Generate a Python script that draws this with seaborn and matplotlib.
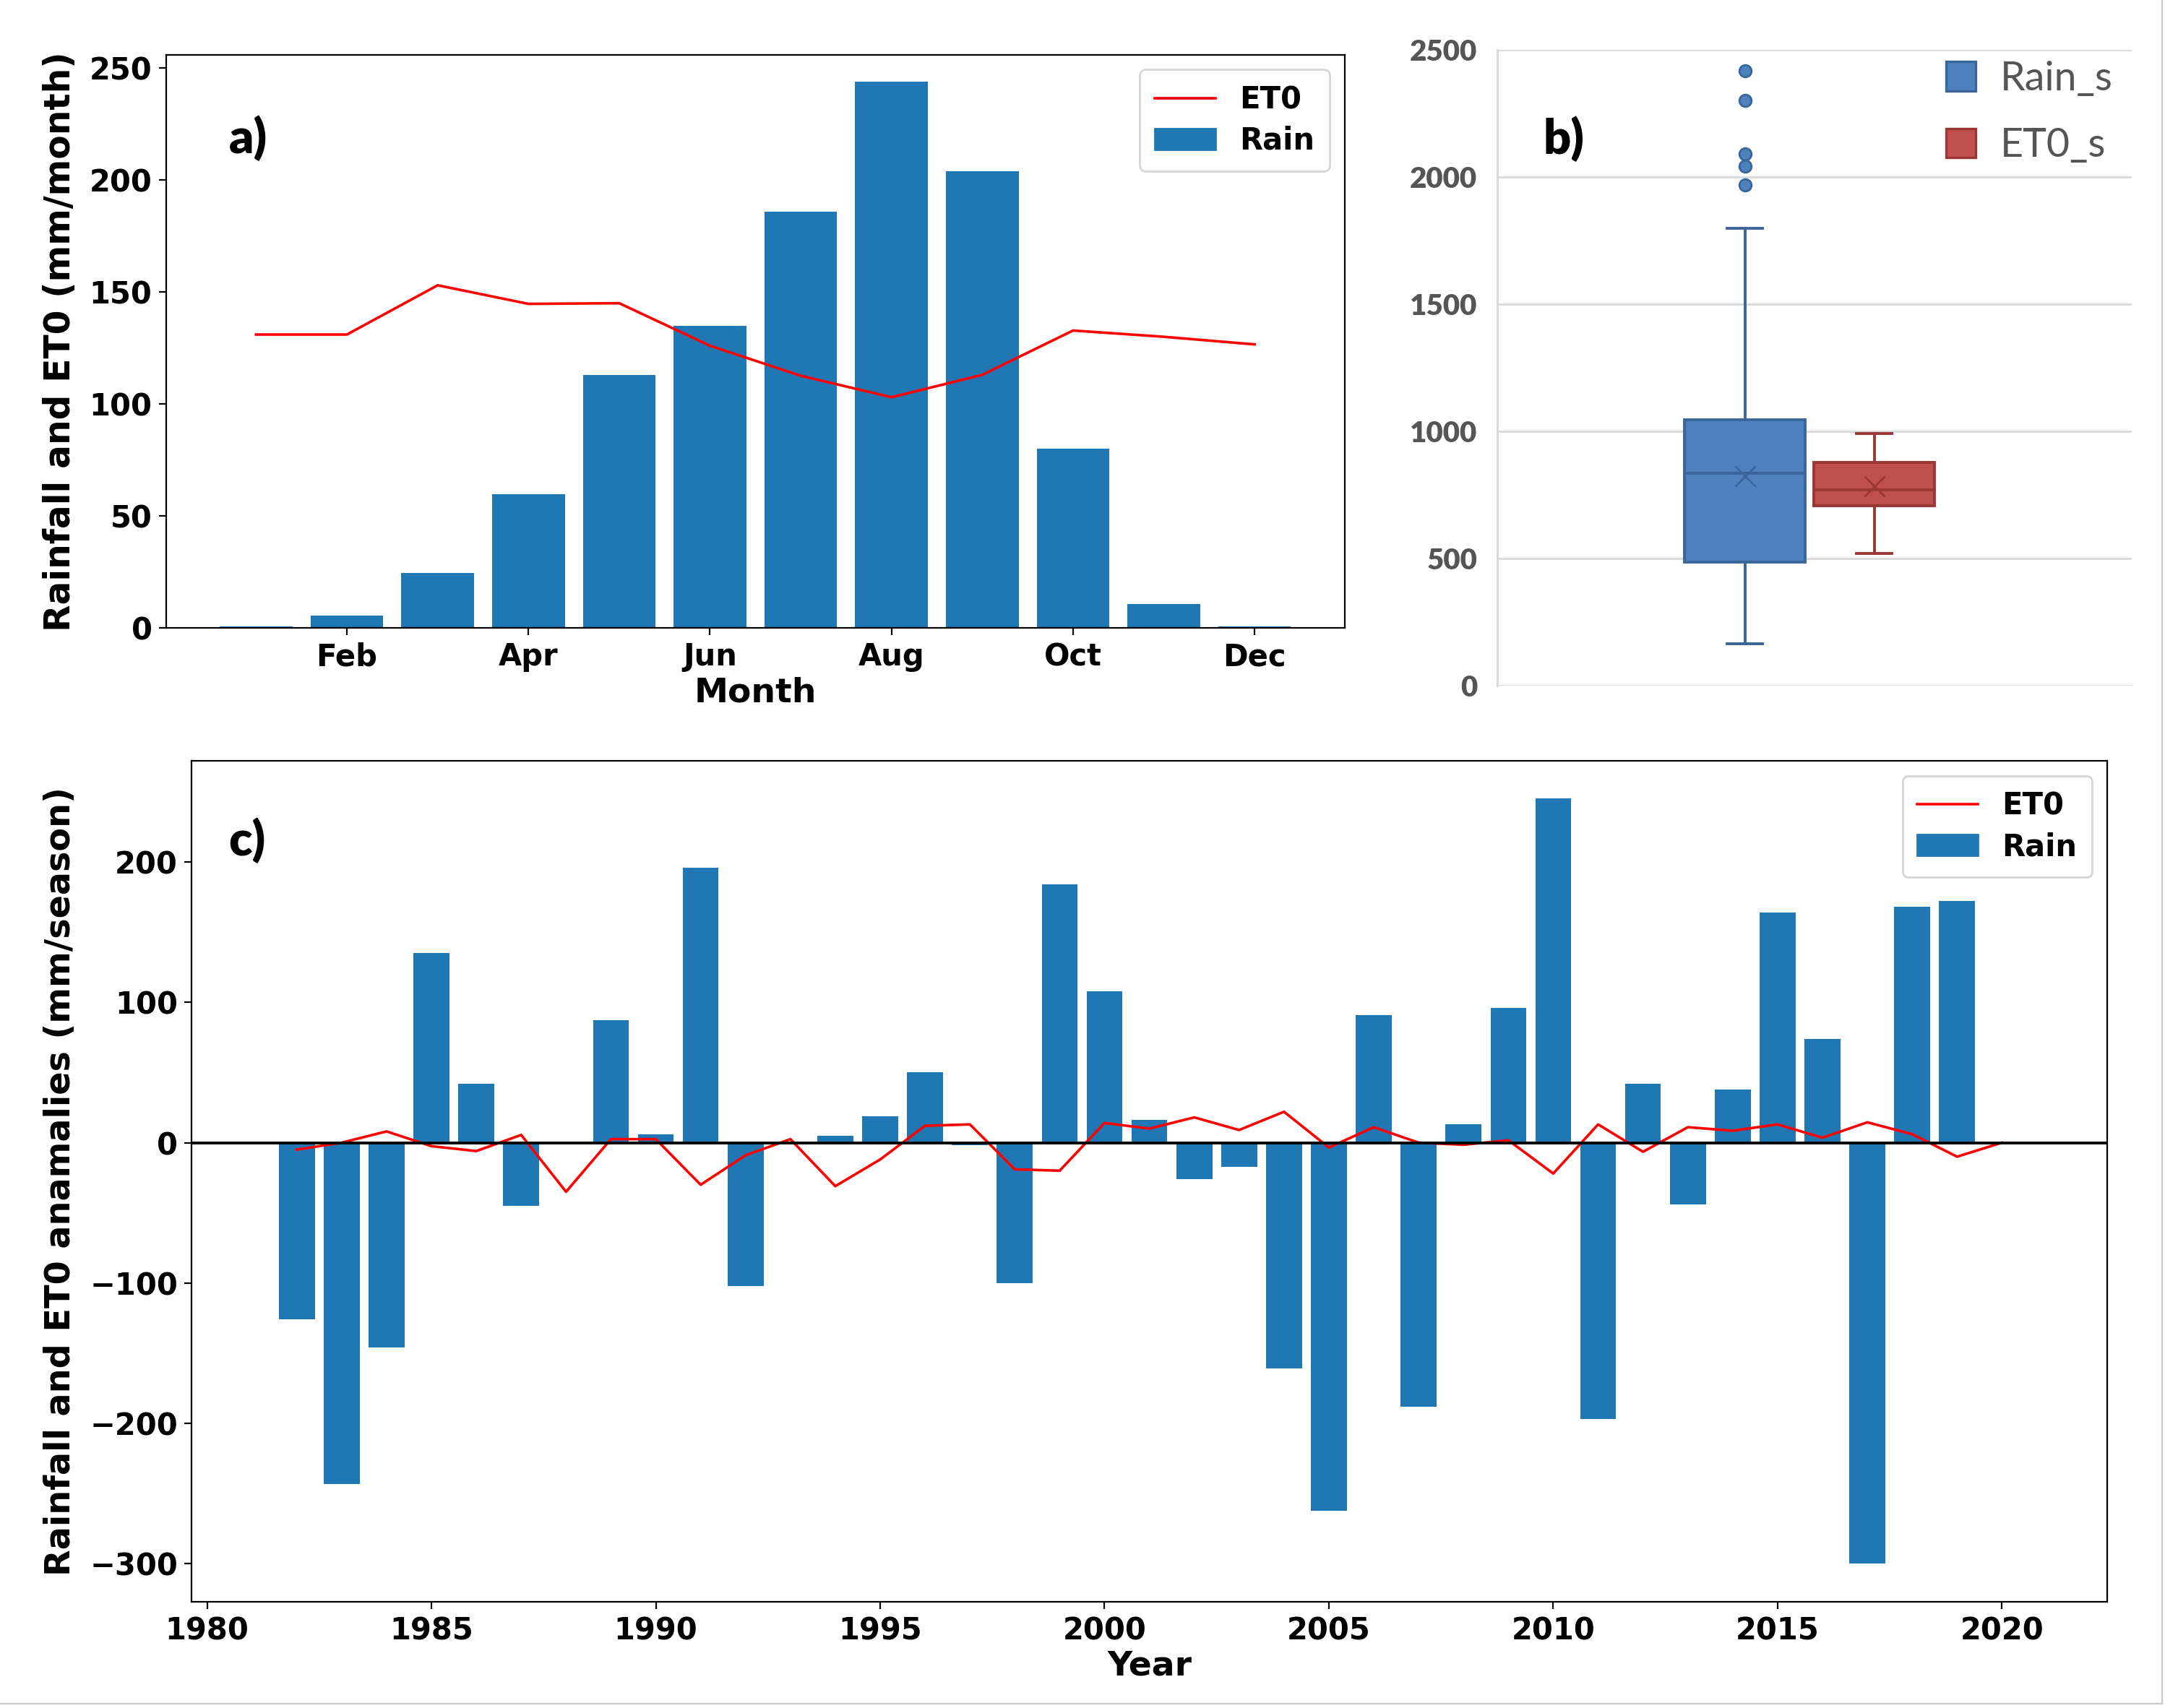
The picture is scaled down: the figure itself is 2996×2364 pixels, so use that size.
import numpy as np
import pandas as pd
import matplotlib
matplotlib.use("Agg")
import matplotlib.pyplot as plt
import seaborn as sns
from matplotlib.lines import Line2D
from matplotlib.patches import Patch
from matplotlib.font_manager import FontProperties

# ---------------- data ----------------
month_labels = ["Jan", "Feb", "Mar", "Apr", "May", "Jun",
                "Jul", "Aug", "Sep", "Oct", "Nov", "Dec"]
month_num = [1, 2, 3, 4, 5, 6, 7, 8, 9, 10, 11, 12]
month_rain = [0.8, 5.6, 24.5, 59.6, 112.8, 134.8, 185.8, 244.0, 204.0, 80.0, 10.7, 0.8]
month_et0 = [131.0, 131.0, 153.0, 144.7, 145.0, 126.0, 112.6, 103.0, 113.0, 132.8, 130.0, 126.6]
month_ticks = [2, 4, 6, 8, 10, 12]
month_ticklabels = ["Feb", "Apr", "Jun", "Aug", "Oct", "Dec"]

years = list(range(1982, 2021))
rain_anom = [-126, -243, -146, 135, 42, -45, -1, 87, 6, 196,
             -102, 0, 5, 19, 50, -2, -100, 184, 108, 16,
             -26, -17, -161, -262, 91, -188, 13, 96, 245, -197,
             42, -44, 38, 164, 74, -300, 168, 172, 0]
et0_anom = [-5, 0, 8, -2.5, -6, 5.5, -35, 2.5, 2.5, -30,
            -9, 2.5, -31, -12, 12, 13, -19, -20, 14, 10,
            18, 9, 22, -3.5, 11, 0, -1.5, 1.7, -22, 13,
            -6.5, 11, 8.5, 13, 3.5, 14.5, 6, -10, 0]

box_names = ["Rain_s", "ET0_s"]
box_whislo = [164, 520]
box_q1 = [485, 707]
box_med = [835, 771]
box_q3 = [1047, 878]
box_whishi = [1798, 991]
box_mean = [824, 784]
rain_outliers = [1969, 2042, 2091, 2300, 2418]
et0_outliers = []

# ---------------- style ----------------
BLUE = "#1f77b4"
plt.rcParams["font.family"] = ["DejaVu Sans"]
plt.rcParams["font.weight"] = "bold"

fig = plt.figure(figsize=(14.98, 11.82), dpi=200)

panel_font = FontProperties(family="Lato", weight="heavy", size=24)

# ---------------- panel a ----------------
ax_a = fig.add_axes([0.0768, 0.6324, 0.621 - 0.0768, 0.968 - 0.6324])
df_m = pd.DataFrame({"month": month_num, "rain": month_rain, "et0": month_et0})
sns.barplot(data=df_m, x="month", y="rain", native_scale=True, color=BLUE,
            saturation=1, width=0.8, linewidth=0, errorbar=None, ax=ax_a)
sns.lineplot(data=df_m, x="month", y="et0", color="red", lw=1.3, ax=ax_a)
ax_a.set_xticks(month_ticks)
ax_a.set_xticklabels(month_ticklabels)
ax_a.set_xlabel("Month", fontsize=17, fontweight="bold", labelpad=2)
ax_a.set_ylabel("Rainfall and ET0 (mm/month)", fontsize=17.5, fontweight="bold",
                labelpad=6)
ax_a.tick_params(labelsize=15)
ax_a.set_ylim(0, 256)
ax_a.set_xlim(0.01, 12.99)
ax_a.text(0.053, 0.855, "a)", transform=ax_a.transAxes, fontproperties=panel_font,
          va="center", ha="left")
h_a = [Line2D([], [], color="red", lw=1.3), Patch(color=BLUE)]
ax_a.legend(h_a, ["ET0", "Rain"], loc="upper right",
            prop={"weight": "bold", "size": 15}, borderpad=0.5, labelspacing=0.35)

# ---------------- panel b ----------------
ax_b = fig.add_axes([0.6916, 0.5985, 0.9847 - 0.6916, 0.9708 - 0.5985])
grey_txt = "#555555"
stats = []
fliers_all = [rain_outliers, et0_outliers]
for i in range(2):
    stats.append(dict(label=box_names[i], whislo=box_whislo[i], q1=box_q1[i],
                      med=box_med[i], q3=box_q3[i], whishi=box_whishi[i],
                      mean=box_mean[i], fliers=fliers_all[i]))
fills = ["#4F81BD", "#C0504D"]
edges = ["#3A659A", "#9A3633"]
positions = [0.39, 0.594]
for i in range(2):
    ax_b.bxp([stats[i]], positions=[positions[i]], widths=[0.19],
             capwidths=[0.055], showmeans=True, patch_artist=True,
             boxprops=dict(facecolor=fills[i], edgecolor=edges[i], lw=1.4),
             whiskerprops=dict(color=edges[i], lw=1.4),
             capprops=dict(color=edges[i], lw=1.4),
             medianprops=dict(color=edges[i], lw=1.4),
             meanprops=dict(marker="x", markeredgecolor=edges[i], markersize=10,
                            markeredgewidth=1.0),
             flierprops=dict(marker="o", markerfacecolor=fills[i],
                             markeredgecolor=edges[i], markersize=6,
                             markeredgewidth=1.0))
ax_b.set_xlim(0, 1)
ax_b.set_ylim(0, 2500)
ax_b.set_xticks([])
b_ticks = [0, 500, 1000, 1500, 2000, 2500]
ax_b.set_yticks(b_ticks)
ax_b.set_yticklabels([str(t) for t in b_ticks],
                     fontproperties=FontProperties(family="Lato", weight="heavy",
                                                   size=14.5),
                     color=grey_txt)
ax_b.yaxis.grid(True, color="#D9D9D9", lw=1.0)
ax_b.set_axisbelow(True)
for s in ["top", "right", "bottom"]:
    ax_b.spines[s].set_visible(False)
ax_b.spines["left"].set_color("#D9D9D9")
ax_b.spines["left"].set_linewidth(1.1)
ax_b.tick_params(axis="y", length=0, pad=10)
ax_b.text(0.072, 0.86, "b)", transform=ax_b.transAxes, fontproperties=panel_font,
          va="center", ha="left")
h_b = [Patch(facecolor=fills[0], edgecolor=edges[0], lw=1.2),
       Patch(facecolor=fills[1], edgecolor=edges[1], lw=1.2)]
leg_b = ax_b.legend(h_b, box_names, loc="upper left", bbox_to_anchor=(0.65, 1.04),
                    frameon=False, handlelength=0.75, handleheight=0.75,
                    labelspacing=0.75, handletextpad=0.6,
                    prop={"family": "Lato", "size": 20, "weight": "normal"})
for t in leg_b.get_texts():
    t.set_color(grey_txt)

# ---------------- panel c ----------------
ax_c = fig.add_axes([0.0886, 0.0622, 0.9732 - 0.0886, 0.5546 - 0.0622])
df_y = pd.DataFrame({"year": years, "rain": rain_anom, "et0": et0_anom})
sns.barplot(data=df_y, x="year", y="rain", native_scale=True, color=BLUE,
            saturation=1, width=0.8, linewidth=0, errorbar=None, ax=ax_c)
sns.lineplot(data=df_y, x="year", y="et0", color="red", lw=1.3, ax=ax_c)
ax_c.axhline(0, color="black", lw=1.4)
ax_c.set_xticks([1980, 1985, 1990, 1995, 2000, 2005, 2010, 2015, 2020])
ax_c.set_xlim(1979.66, 2022.34)
ax_c.set_ylim(-327, 272)
ax_c.set_xlabel("Year", fontsize=17, fontweight="bold", labelpad=2)
ax_c.set_ylabel("Rainfall and ET0 anamalies (mm/season)", fontsize=17.2,
                fontweight="bold", labelpad=6)
ax_c.tick_params(labelsize=15)
ax_c.text(0.019, 0.905, "c)", transform=ax_c.transAxes, fontproperties=panel_font,
          va="center", ha="left")
h_c = [Line2D([], [], color="red", lw=1.3), Patch(color=BLUE)]
ax_c.legend(h_c, ["ET0", "Rain"], loc="upper right",
            prop={"weight": "bold", "size": 15}, borderpad=0.5, labelspacing=0.35)

for ax in (ax_a, ax_c):
    for s in ax.spines.values():
        s.set_linewidth(0.8)

# figure border lines (right and bottom)
fig.add_artist(Line2D([0.9987, 0.9987], [0.0025, 1.0], transform=fig.transFigure,
                      color="#C8C8C8", lw=0.8))
fig.add_artist(Line2D([0.0, 0.9987], [0.0025, 0.0025], transform=fig.transFigure,
                      color="#C8C8C8", lw=0.8))

fig.savefig("out.png", dpi=200)
